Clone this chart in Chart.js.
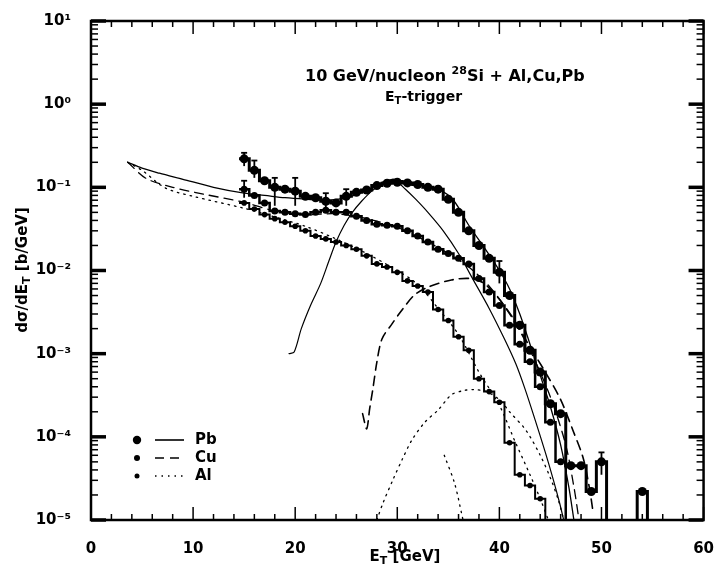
<!DOCTYPE html>
<html>
<head>
<meta charset="utf-8">
<script src="https://cdn.jsdelivr.net/npm/chart.js@4.4.1/dist/chart.umd.min.js"></script>
<style>
  html, body { margin: 0; padding: 0; background: #fff; }
  #wrap { width: 726px; height: 575px; }
</style>
</head>
<body>
<div id="wrap"><canvas id="c" width="726" height="575"></canvas></div>
<script>
const FONT = '"DejaVu Sans", sans-serif';

// E_T bin centres (GeV), 1 GeV bins
const binE = [15,16,17,18,19,20,21,22,23,24,25,26,27,28,29,30,31,32,33,34,35,36,37,38,39,40,41,42,43,44,45,46,47,48,49,50,51,52,53,54];

// measured dσ/dE_T (b/GeV), null = empty bin
const pbVal = [0.22,0.16,0.12,0.10,0.095,0.09,0.078,0.075,0.068,0.065,0.078,0.087,0.093,0.105,0.112,0.115,0.113,0.108,0.10,0.095,0.072,0.05,0.03,0.02,0.014,0.0095,0.005,0.0022,0.0011,6e-4,2.5e-4,1.9e-4,4.5e-5,4.5e-5,2.2e-5,5e-5,null,null,null,2.2e-5];
const cuVal = [0.095,0.08,0.065,0.052,0.05,0.048,0.047,0.05,0.053,0.05,0.05,0.045,0.04,0.036,0.035,0.034,0.03,0.026,0.022,0.018,0.016,0.014,0.012,0.008,0.0055,0.0038,0.0022,0.0013,8e-4,4e-4,1.5e-4,5e-5,null,null,null,null,null,null,null,null];
const alVal = [0.065,0.055,0.047,0.042,0.038,0.034,0.03,0.026,0.024,0.022,0.02,0.018,0.015,0.012,0.011,0.0095,0.0075,0.0065,0.0055,0.0034,0.0025,0.0016,0.0011,5e-4,3.5e-4,2.6e-4,8.5e-5,3.5e-5,2.6e-5,1.8e-5,null,null,null,null,null,null,null,null,null,null];

// error bars: [E, low, high]
const pbErr = [[15,0.18,0.26],[16,0.13,0.21],[18,0.06,0.13],[20,0.06,0.13],[23,0.055,0.085],[25,0.06,0.095],[40,0.007,0.013],[50,3.5e-5,6.5e-5]];
const cuErr = [[15,0.075,0.12]];

// calculated curves, full trigger
const pbFitE = [3.6,5,6.7,9,12,15,17,19,21,23,25,27,28.5,29.5,30.5,32,34,35.5,37,38.5,40,41,42,43,44,45,46,46.8,47.3];
const pbFit  = [0.2,0.17,0.148,0.125,0.1,0.085,0.08,0.075,0.072,0.07,0.075,0.092,0.115,0.125,0.12,0.11,0.095,0.07,0.035,0.019,0.01,0.006,0.003,1.3e-3,5.5e-4,2.3e-4,8e-5,2.5e-5,1e-5];
const cuFitE = [3.6,5.4,8,11,15,18,21,24,27,30,33,35,37,39,41,43,45,46.5,47.3,47.8];
const cuFit  = [0.2,0.128,0.1,0.083,0.066,0.052,0.047,0.048,0.042,0.033,0.022,0.016,0.011,0.0065,0.003,1.1e-3,3e-4,8e-5,2.5e-5,1e-5];
const alFitE = [3.6,5,7.3,10,15,18,21,24,27,30,32,34,36,38,40,41.5,43,44,44.8];
const alFit  = [0.2,0.16,0.098,0.078,0.056,0.044,0.034,0.024,0.016,0.01,0.0068,0.0035,0.0017,6e-4,2.4e-4,9e-5,3.5e-5,1.8e-5,1e-5];

// calculated curves, central part
const pbCenE = [19.4,19.9,20.6,21.5,22.5,23.3,24.0,24.8,25.6,26.5,27.5,28.8,29.8,30.8,31.8,33,34.5,36,37.5,39,40.5,41.6,42.5,43.5,44.5,45.3,45.9,46.3];
const pbCen  = [1e-3,1.05e-3,2e-3,3.8e-3,7e-3,0.013,0.022,0.035,0.05,0.068,0.09,0.115,0.12,0.095,0.072,0.05,0.03,0.016,0.0075,0.0035,0.0015,7.6e-4,3.8e-4,1.6e-4,6.5e-5,3e-5,1.6e-5,1e-5];
const cuCenE = [26.6,27.0,27.3,27.6,28,28.5,29.5,30.5,31.7,33,35.3,37.2,38.5,40,41.5,43,44.5,46,47.2,48.2,48.8,49.2];
const cuCen  = [1.9e-4,1.25e-4,2.2e-4,3.7e-4,7.9e-4,1.5e-3,2.3e-3,3.4e-3,5.1e-3,6.3e-3,7.7e-3,8e-3,7e-3,4.5e-3,2.5e-3,1.2e-3,6e-4,2.8e-4,1.2e-4,5.6e-5,2.5e-5,1.2e-5];
const alCenE = [28.0,28.6,29.6,30.5,31.4,32.7,34,35.3,36.5,37.5,38.7,40,41,42.6,44,45,45.8,46.3];
const alCen  = [1e-5,1.6e-5,3.1e-5,5.4e-5,9e-5,1.5e-4,2.1e-4,3.2e-4,3.6e-4,3.7e-4,3.5e-4,2.8e-4,2e-4,1.2e-4,6e-5,3.2e-5,1.7e-5,1e-5];
const alLowE = [34.6,35.6,36.3,36.6];
const alLow  = [6e-5,2.8e-5,1.2e-5,8e-6];

const yDecades = [1e-5,1e-4,1e-3,1e-2,1e-1,1,10];

const FLOOR = 1e-7; // below the axis, clipped away

// histogram outline from bin centres, dropping to the floor at gaps and at the end
function hist(es, vs) {
  const pts = [];
  es.forEach((e, i) => {
    const v = vs[i];
    if (v == null) return;
    if (i > 0 && vs[i - 1] == null) pts.push({ x: e - 0.5, y: FLOOR });
    pts.push({ x: e - 0.5, y: v }, { x: e + 0.5, y: v });
    if (vs[i + 1] == null) pts.push({ x: e + 0.5, y: FLOOR });
  });
  return pts;
}
const dots = (es, vs) => es.map((e, i) => ({ x: e, y: vs[i] })).filter(p => p.y != null);
const pairs = (es, vs) => es.map((e, i) => ({ x: e, y: vs[i] }));

const histDs = (data, w) => ({ data, borderColor: '#000', borderWidth: w, pointRadius: 0, fill: false, tension: 0 });
const dotDs = (data, r) => ({ data, showLine: false, pointRadius: r, pointBackgroundColor: '#000', pointBorderColor: '#000', pointBorderWidth: 0 });
const curveDs = (data, dash, w = 1.3) => ({ data, borderColor: '#000', borderWidth: w, borderDash: dash, pointRadius: 0, fill: false, tension: 0.3, borderCapStyle: 'round' });

const SOLID = [], DASH = [9, 6], DOT = [1.5, 5];

const sup = { '-': '⁻', '0': '⁰', '1': '¹', '2': '²', '3': '³', '4': '⁴', '5': '⁵' };
const decadeLabel = v => '10' + String(Math.round(Math.log10(v))).split('').map(c => sup[c]).join('');

// draws text pieces left to right; a piece is [text, 'sub'|'sup']
function richText(ctx, parts, x, y, size, align) {
  const fontFor = m => `bold ${m ? Math.round(size * 0.7) : size}px ${FONT}`;
  let w = 0;
  parts.forEach(([t, m]) => { ctx.font = fontFor(m); w += ctx.measureText(t).width; });
  let cx = align === 'center' ? x - w / 2 : x;
  ctx.textAlign = 'left';
  ctx.textBaseline = 'middle';
  parts.forEach(([t, m]) => {
    ctx.font = fontFor(m);
    const dy = m === 'sub' ? size * 0.3 : m === 'sup' ? -size * 0.35 : 0;
    ctx.fillText(t, cx, y + dy);
    cx += ctx.measureText(t).width;
  });
}

const frame = {
  id: 'frame',
  afterDraw(chart) {
    const { ctx, chartArea: a, scales: { x: xs, y: ys } } = chart;
    const seg = (x1, y1, x2, y2) => { ctx.beginPath(); ctx.moveTo(x1, y1); ctx.lineTo(x2, y2); ctx.stroke(); };
    ctx.save();
    ctx.strokeStyle = '#000';
    ctx.fillStyle = '#000';

    // error bars
    ctx.lineWidth = 1.8;
    [...pbErr, ...cuErr].forEach(([e, lo, hi]) => {
      const px = xs.getPixelForValue(e);
      const p1 = ys.getPixelForValue(lo), p2 = ys.getPixelForValue(hi);
      seg(px, p1, px, p2);
      seg(px - 3, p2, px + 3, p2);
    });

    // box
    ctx.lineWidth = 2.5;
    ctx.strokeRect(a.left, a.top, a.right - a.left, a.bottom - a.top);

    // inward ticks
    ctx.lineWidth = 1.5;
    for (let e = 0; e <= 60; e += 2) {
      const px = xs.getPixelForValue(e);
      const len = e % 10 === 0 ? 13 : 6;
      seg(px, a.bottom, px, a.bottom - len);
      seg(px, a.top, px, a.top + len);
    }
    for (let d = -5; d <= 1; d++) {
      for (let m = 1; m <= 9; m++) {
        const v = m * Math.pow(10, d);
        if (v > 10) break;
        const py = ys.getPixelForValue(v);
        const len = m === 1 ? 15 : 7;
        ctx.lineWidth = m === 1 ? 3.5 : 1.5;
        seg(a.left, py, a.left + len, py);
        seg(a.right, py, a.right - len, py);
      }
    }

    // axis titles
    ctx.save();
    ctx.translate(23, 270);
    ctx.rotate(-Math.PI / 2);
    richText(ctx, [['dσ/dE'], ['T', 'sub'], [' [b/GeV]']], 0, 0, 15, 'center');
    ctx.restore();
    richText(ctx, [['E'], ['T', 'sub'], [' [GeV]']], 405, 557, 15, 'center');

    // reaction label
    richText(ctx, [['10 GeV/nucleon '], ['28', 'sup'], ['Si + Al,Cu,Pb']], 305, 77, 16, 'left');
    richText(ctx, [['E'], ['T', 'sub'], ['-trigger']], 385, 97, 14, 'left');

    // legend
    const rows = [['Pb', 4.2, SOLID], ['Cu', 3, DASH], ['Al', 2.5, DOT]];
    rows.forEach(([name, r, dash], i) => {
      const y = 440 + i * 18;
      ctx.beginPath();
      ctx.arc(137, y, r, 0, Math.PI * 2);
      ctx.fill();
      ctx.lineWidth = 1.6;
      ctx.setLineDash(dash);
      seg(155, y, 184, y);
      ctx.setLineDash([]);
      richText(ctx, [[name]], 195, y, 15, 'left');
    });
    ctx.restore();
  }
};

new Chart(document.getElementById('c'), {
  type: 'line',
  data: {
    datasets: [
      curveDs(pairs(pbFitE, pbFit), SOLID),
      curveDs(pairs(cuFitE, cuFit), DASH),
      curveDs(pairs(alFitE, alFit), DOT),
      curveDs(pairs(pbCenE, pbCen), SOLID, 1.2),
      curveDs(pairs(cuCenE, cuCen), DASH, 1.6),
      curveDs(pairs(alCenE, alCen), DOT),
      curveDs(pairs(alLowE, alLow), DOT),
      histDs(hist(binE, pbVal), 3),
      histDs(hist(binE, cuVal), 2.5),
      histDs(hist(binE, alVal), 2),
      dotDs(dots(binE, pbVal), 4.5),
      dotDs(dots(binE, cuVal), 3.5),
      dotDs(dots(binE, alVal), 2.8)
    ]
  },
  options: {
    responsive: false,
    animation: false,
    events: [],
    layout: { padding: { left: 0, right: 14, top: 20, bottom: 0 } },
    plugins: { legend: { display: false }, tooltip: { enabled: false } },
    scales: {
      x: {
        type: 'linear', min: 0, max: 60,
        grid: { display: false }, border: { display: false },
        ticks: { stepSize: 10, padding: 12, maxRotation: 0, color: '#000', font: { family: FONT, size: 15, weight: 'bold' } },
        afterFit: s => { s.height = 55; }
      },
      y: {
        type: 'logarithmic', min: 1e-5, max: 10,
        grid: { display: false }, border: { display: false },
        afterBuildTicks: s => { s.ticks = yDecades.map(v => ({ value: v })); },
        ticks: { padding: 12, color: '#000', font: { family: FONT, size: 15, weight: 'bold' }, callback: v => decadeLabel(v) },
        afterFit: s => { s.width = 91; }
      }
    }
  },
  plugins: [frame]
});
</script>
</body>
</html>
